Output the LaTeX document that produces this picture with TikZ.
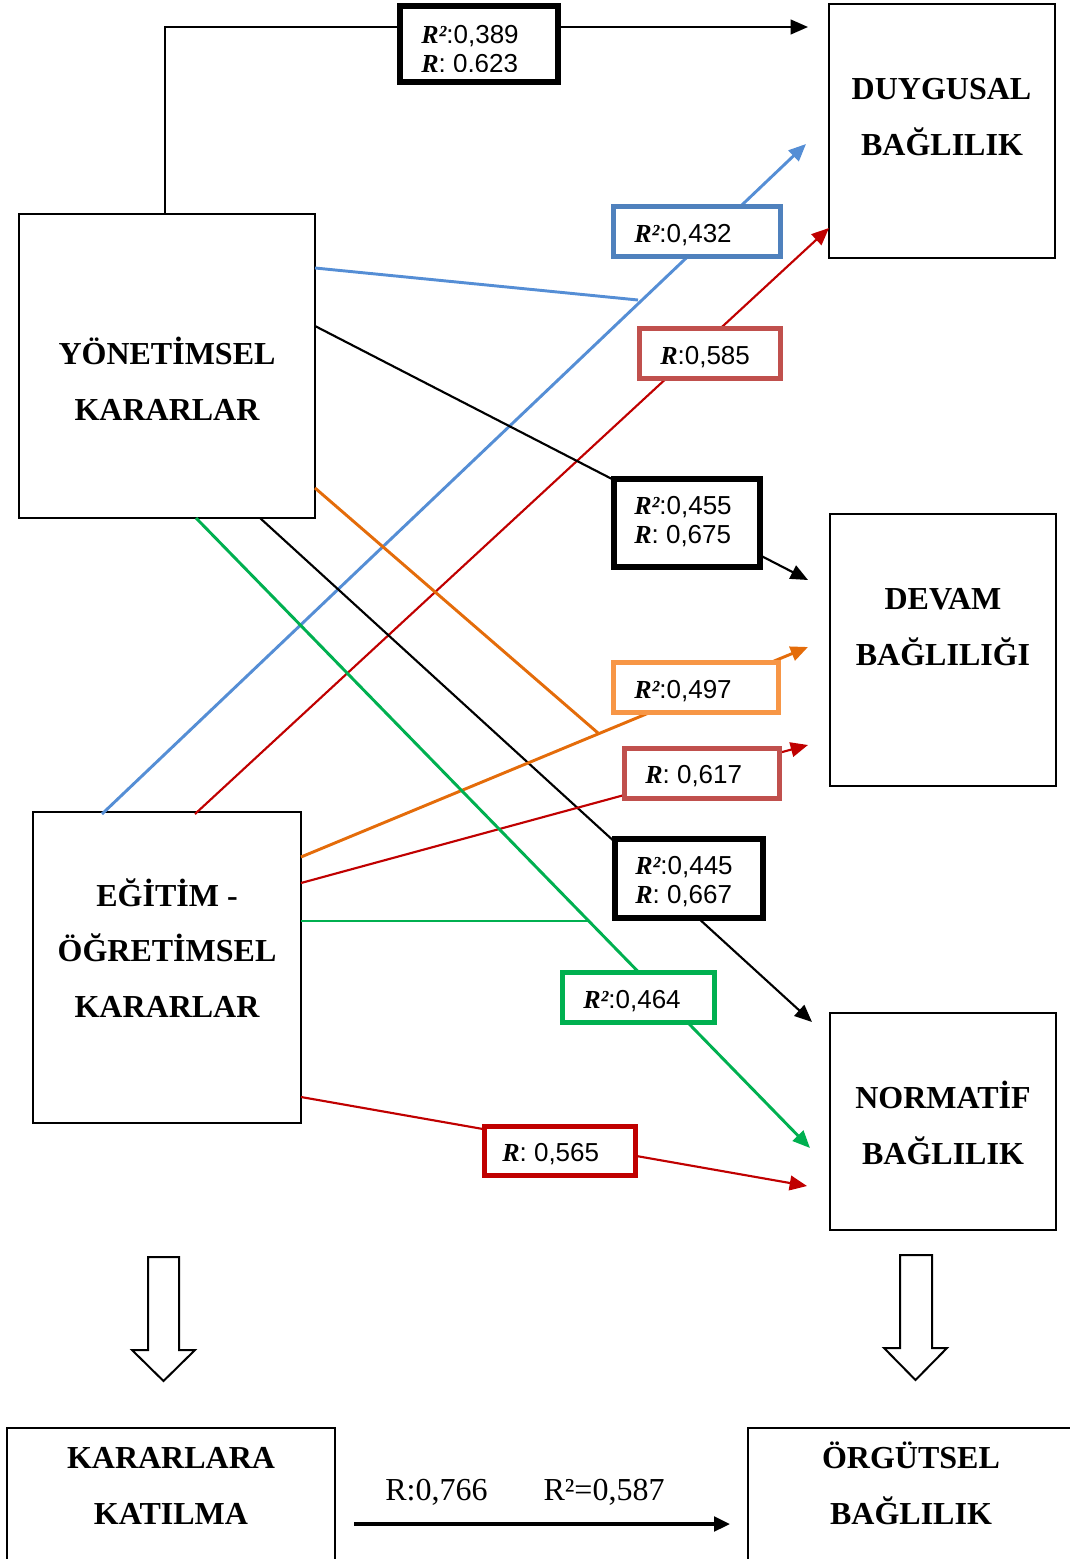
\documentclass[tikz,border=0pt]{standalone}
\usepackage{fontspec}
\setmainfont{Liberation Serif}
\newfontfamily\arialf{Liberation Sans}
\usetikzlibrary{arrows.meta,fit}
\definecolor{cblue}{RGB}{85,142,213}
\definecolor{cblueb}{RGB}{79,129,189}
\definecolor{cred}{RGB}{192,0,0}
\definecolor{credb}{RGB}{192,80,77}
\definecolor{corange}{RGB}{228,108,10}
\definecolor{corangeb}{RGB}{247,150,70}
\definecolor{cgreen}{RGB}{0,176,80}
\newcommand\Rb{{\normalfont\bfseries\itshape R}}
\newcommand\Rs{{\normalfont\bfseries\itshape R²}}
\tikzset{
  ttl/.style={anchor=base, inner sep=0pt, font=\fontsize{24}{28}\selectfont\bfseries},
  plain/.style={anchor=base, inner sep=0pt, font=\fontsize{24}{28}\selectfont},
  mbox/.style={draw, line width=1.1pt, inner sep=0pt},
  lbox/.style={draw, fill=white, inner sep=0pt, line width=3.4pt},
  kbox/.style={draw, fill=white, inner sep=0pt, line width=4.3pt},
  ltxt/.style={anchor=west, inner sep=0pt, align=left, font=\arialf\fontsize{19.5}{21.75}\selectfont},
  tip/.style={-{Triangle[length=13pt,width=11pt]}},
  kline/.style={line width=1.6pt, black},
  bline/.style={line width=2.2pt, cblue},
  rline/.style={line width=1.6pt, cred},
  oline/.style={line width=2.2pt, corange},
  gline/.style={line width=2.2pt, cgreen},
  hollow/.style={draw, line width=1.5pt, fill=white}
}
\begin{document}
\begin{tikzpicture}[x=0.75pt,y=-0.75pt]
\useasboundingbox (0,0) rectangle (1070,1559);

% main boxes
\node[mbox, fit={(829,4) (1055,258)}] (duy) {};
\node[mbox, fit={(19,214) (315,518)}] (yon) {};
\node[mbox, fit={(830,514) (1056,786)}] (dev) {};
\node[mbox, fit={(33,812) (301,1123)}] (egt) {};
\node[mbox, fit={(830,1013) (1056,1230)}] (nor) {};
\begin{scope}
\clip (0,0) rectangle (1070,1559);
\node[mbox, fit={(7,1428) (335,1600)}] (kat) {};
\node[mbox, fit={(748,1428) (1080,1600)}] (org) {};
\end{scope}

% titles
\node[ttl] (duy1) at (941.5,99.5) {DUYGUSAL};
\node[ttl] (duy2) at (942,155.5) {BAĞLILIK};
\node[ttl] (yon1) at (167,364.5) {YÖNETİMSEL};
\node[ttl] (yon2) at (167,420.5) {KARARLAR};
\node[ttl] (dev1) at (943,609.5) {DEVAM};
\node[ttl] (dev2) at (943,665.5) {BAĞLILIĞI};
\node[ttl] (egt1) at (167,906.5) {EĞİTİM -};
\node[ttl] (egt2) at (167,961.5) {ÖĞRETİMSEL};
\node[ttl] (egt3) at (167,1017.5) {KARARLAR};
\node[ttl] (nor1) at (943,1108.5) {NORMATİF};
\node[ttl] (nor2) at (943,1164.5) {BAĞLILIK};
\node[ttl] (kat1) at (171,1468.5) {KARARLARA};
\node[ttl] (kat2) at (171,1524.5) {KATILMA};
\node[ttl] (org1) at (911,1468.5) {ÖRGÜTSEL};
\node[ttl] (org2) at (911,1524.5) {BAĞLILIK};

% connector end points
\coordinate (k1s) at (165,214);
\coordinate (k1e) at (808,27);
\coordinate (b1s) at (102,814);
\coordinate (b1e) at (806,144);
\coordinate (b2s) at (315,268);
\coordinate (b2j) at (638,300);
\coordinate (r1s) at (195,814);
\coordinate (r1e) at (829,228);
\coordinate (k2s) at (315,326);
\coordinate (k2e) at (808,580);
\coordinate (k3s) at (260,518);
\coordinate (k3e) at (812,1022);
\coordinate (o1s) at (301,857);
\coordinate (o1e) at (808,647);
\coordinate (o2s) at (315,488);
\coordinate (o2j) at (598,733);
\coordinate (r2s) at (301,883);
\coordinate (r2e) at (808,745);
\coordinate (g1s) at (196,518);
\coordinate (g1e) at (810,1148);
\coordinate (g2s) at (301,921);
\coordinate (g2j) at (590,921);
\coordinate (r3s) at (301,1097);
\coordinate (r3e) at (807,1186);
\coordinate (ks) at (354,1524);
\coordinate (ke) at (730,1524);

% connectors
\draw[kline, tip] (k1s) |- (k1e);
\draw[bline, tip] (b1s) -- (b1e);
\draw[bline] (b2s) -- (b2j);
\draw[rline, tip] (r1s) -- (r1e);
\draw[kline, tip] (k2s) -- (k2e);
\draw[kline, tip] (k3s) -- (k3e);
\draw[oline, tip] (o1s) -- (o1e);
\draw[oline] (o2s) -- (o2j);
\draw[rline, tip] (r2s) -- (r2e);
\draw[gline, tip] (g1s) -- (g1e);
\draw[gline] (g2s) -- (g2j);
\draw[rline, tip] (r3s) -- (r3e);
\draw[line width=2.5pt, -{Triangle[length=12pt,width=11pt]}] (ks) -- (ke);

% label boxes
\node[kbox, fit={(400,6) (558,82)}] (l389) {};
\node[lbox, draw=cblueb, fit={(613.5,206.5) (780.5,256.5)}] (l432) {};
\node[lbox, draw=credb, fit={(639.5,328.5) (780.5,378.5)}] (l585) {};
\node[kbox, fit={(614,479) (760,567)}] (l455) {};
\node[lbox, draw=corangeb, fit={(613.5,662.5) (778.5,712.5)}] (l497) {};
\node[lbox, draw=credb, fit={(624.5,748.5) (779.5,798.5)}] (l617) {};
\node[kbox, fit={(615,839) (763,918)}] (l445) {};
\node[lbox, draw=cgreen, fit={(562.5,972.5) (714.5,1022.5)}] (l464) {};
\node[lbox, draw=cred, fit={(484.5,1126.5) (635.5,1175.5)}] (l565) {};

% label texts
\begin{scope}
\clip (403,9) rectangle (555,71.5);
\node[ltxt] (t389) at (421,49) {\Rs:0,389\\\Rb:~0.623};
\end{scope}
\node[ltxt] (t432) at (634,235) {\Rs:0,432};
\node[ltxt] (t585) at (660,357) {\Rb:0,585};
\node[ltxt] (t455) at (634,522) {\Rs:0,455\\\Rb:~0,675};
\node[ltxt] (t497) at (634,691) {\Rs:0,497};
\node[ltxt] (t617) at (645,776) {\Rb:~0,617};
\node[ltxt] (t445) at (635,882) {\Rs:0,445\\\Rb:~0,667};
\node[ltxt] (t464) at (583,1001) {\Rs:0,464};
\node[ltxt] (t565) at (502,1154) {\Rb:~0,565};

% bottom label
\node[plain] (bt1) at (436.5,1500.5) {R:0,766};
\node[plain] (bt2) at (604,1500.5) {R²=0,587};

% hollow arrows
\draw[hollow] (148,1257) -- (179,1257) -- (179,1350) -- (195,1350) -- (163.5,1381) -- (132,1350) -- (148,1350) -- cycle;
\draw[hollow] (900,1255) -- (932,1255) -- (932,1348) -- (947,1348) -- (915.5,1380) -- (884,1348) -- (900,1348) -- cycle;
\end{tikzpicture}
\end{document}
